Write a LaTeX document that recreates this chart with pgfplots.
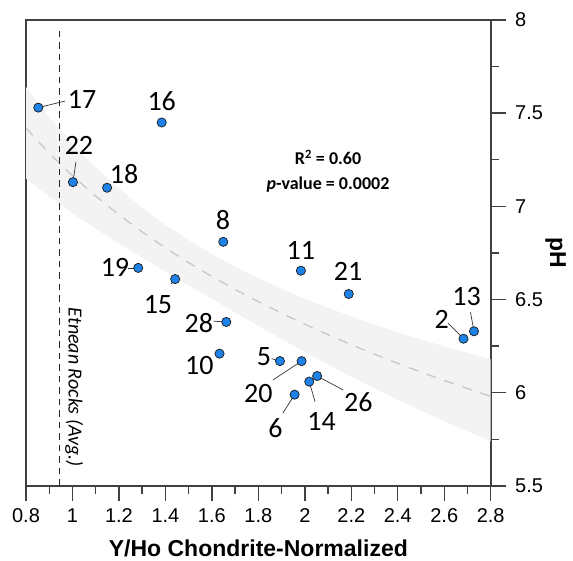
\documentclass[border=0pt]{standalone}
\usepackage{fontspec}
\setmainfont{Liberation Sans}
\newfontfamily\calibri{Carlito}
\usepackage{pgfplots}
\pgfplotsset{compat=1.18}
\usepackage{pgfplotstable}
\definecolor{ptblue}{RGB}{30,130,230}
\definecolor{axgray}{RGB}{64,64,64}
\definecolor{bandgray}{RGB}{243,243,243}
\definecolor{fitgray}{RGB}{200,200,200}

\pgfplotstableread{
x y
0.853 7.53
1.384 7.45
1.002 7.13
1.149 7.10
1.649 6.81
1.283 6.67
1.442 6.61
1.983 6.655
2.189 6.53
1.662 6.38
1.633 6.21
1.893 6.17
1.956 5.99
1.986 6.17
2.019 6.06
2.053 6.09
2.683 6.29
2.728 6.33
}\points

\pgfplotstableread{
x f
0.8 7.420
0.9 7.285
1.0 7.164
1.1 7.055
1.2 6.955
1.3 6.863
1.4 6.777
1.5 6.698
1.6 6.624
1.7 6.554
1.8 6.489
1.9 6.427
2.0 6.368
2.1 6.312
2.2 6.258
2.3 6.207
2.4 6.158
2.5 6.111
2.6 6.066
2.7 6.023
2.8 5.981
}\fit

\begin{document}
\begin{tikzpicture}
\begin{axis}[
  scale only axis, width=464.7pt, height=466pt,
  xmin=0.8, xmax=2.8, ymin=5.5, ymax=8,
  xtick={0.8,1,1.2,1.4,1.6,1.8,2,2.2,2.4,2.6,2.8},
  ytick={5.5,6,6.5,7,7.5,8},
  minor x tick num=1, minor y tick num=1,
  xtick pos=left, ytick pos=right, yticklabel pos=right,
  tick align=outside,
  major tick length=15pt, minor tick length=8pt,
  axis line style={axgray, line width=1.6pt},
  tick style={axgray, line width=1.4pt},
  /pgf/number format/assume math mode=true,
  tick label style={font=\fontsize{20}{24}\selectfont, black},
  xticklabel style={yshift=-4pt},
  yticklabel style={xshift=6pt},
  clip=false,
  xlabel={Y/Ho Chondrite-Normalized},
  ylabel={pH},
  xlabel style={font=\bfseries\fontsize{23}{27}\selectfont, at={(axis description cs:0.5,-0.1330)}, anchor=center, inner sep=0pt},
  ylabel style={font=\bfseries\fontsize{23}{27}\selectfont, at={(axis description cs:1.1400,0.5)}, anchor=center, rotate=180, inner sep=0pt},
]
% confidence band
\addplot[fill=bandgray, draw=none] coordinates {
(0.8,7.640) (0.9,7.479) (1.0,7.336) (1.1,7.209) (1.2,7.096) (1.3,6.993) (1.4,6.901) (1.5,6.819) (1.6,6.744) (1.7,6.676) (1.8,6.615) (1.9,6.558) (2.0,6.505) (2.1,6.456) (2.2,6.410) (2.3,6.366) (2.4,6.325) (2.5,6.286) (2.6,6.249) (2.7,6.214) (2.8,6.180)
(2.8,5.740) (2.7,5.793) (2.6,5.848) (2.5,5.904) (2.4,5.963) (2.3,6.024) (2.2,6.087) (2.1,6.152) (2.0,6.219) (1.9,6.288) (1.8,6.359) (1.7,6.431) (1.6,6.504) (1.5,6.577) (1.4,6.650) (1.3,6.725) (1.2,6.801) (1.1,6.880) (1.0,6.962) (0.9,7.052) (0.8,7.149)
} -- cycle;
% fit line
\addplot[fitgray, line width=1.3pt, dash pattern=on 10pt off 9pt] table[x=x, y=f] {\fit};
% etnean rocks line
\addplot[black!85, line width=1.2pt, dash pattern=on 6.5pt off 5pt] coordinates {(0.943,5.5) (0.943,7.957)};
\node[font=\calibri\itshape\fontsize{20}{24}\selectfont, rotate=-90] at (axis cs:1.007,6.03) {Etnean Rocks (Avg.)};
% leaders
\begin{scope}[black!80, line width=0.7pt]
\draw (axis cs:0.853,7.53) -- (axis cs:0.968,7.565);
\draw (axis cs:1.002,7.13) -- (axis cs:1.015,7.238);
\draw (axis cs:1.239,6.670) -- (axis cs:1.283,6.67);
\draw (axis cs:1.424,6.584) -- (axis cs:1.442,6.61);
\draw (axis cs:1.609,6.384) -- (axis cs:1.662,6.38);
\draw (axis cs:1.857,6.183) -- (axis cs:1.893,6.17);
\draw (axis cs:1.863,6.069) -- (axis cs:1.986,6.17);
\draw (axis cs:1.906,5.892) -- (axis cs:1.956,5.99);
\draw (axis cs:2.044,5.952) -- (axis cs:2.019,6.06);
\draw (axis cs:2.165,6.015) -- (axis cs:2.053,6.09);
\draw (axis cs:2.617,6.373) -- (axis cs:2.683,6.29);
\draw (axis cs:2.713,6.432) -- (axis cs:2.728,6.33);
\end{scope}
% points
\addplot[only marks, mark=*, mark size=4.6pt, mark options={fill=ptblue, draw=black!90, line width=0.7pt}] table[x=x, y=y] {\points};
% labels
\begin{scope}[every node/.style={font=\calibri\fontsize{28}{30}\selectfont, inner sep=0pt}]
\node at (axis cs:1.041,7.571) {17};
\node at (axis cs:1.384,7.562) {16};
\node at (axis cs:1.028,7.326) {22};
\node at (axis cs:1.222,7.172) {18};
\node at (axis cs:1.648,6.927) {8};
\node at (axis cs:1.183,6.670) {19};
\node at (axis cs:1.368,6.471) {15};
\node at (axis cs:1.544,6.373) {28};
\node at (axis cs:1.546,6.149) {10};
\node at (axis cs:1.824,6.194) {5};
\node at (axis cs:1.800,5.997) {20};
\node at (axis cs:1.874,5.810) {6};
\node at (axis cs:2.072,5.845) {14};
\node at (axis cs:2.230,5.952) {26};
\node at (axis cs:2.589,6.394) {2};
\node at (axis cs:2.696,6.516) {13};
\node at (axis cs:1.983,6.766) {11};
\node at (axis cs:2.186,6.653) {21};
\end{scope}
\node[font=\calibri\bfseries\fontsize{18}{25}\selectfont, align=center] at (axis cs:2.1,7.19) {R\textsuperscript{2} = 0.60\\\textit{p}-value = 0.0002};
\end{axis}
\path (current axis.south west) ++(-26pt,-75pt);
\path (current axis.north east) ++(82.3pt,20pt);
\end{tikzpicture}
\end{document}
